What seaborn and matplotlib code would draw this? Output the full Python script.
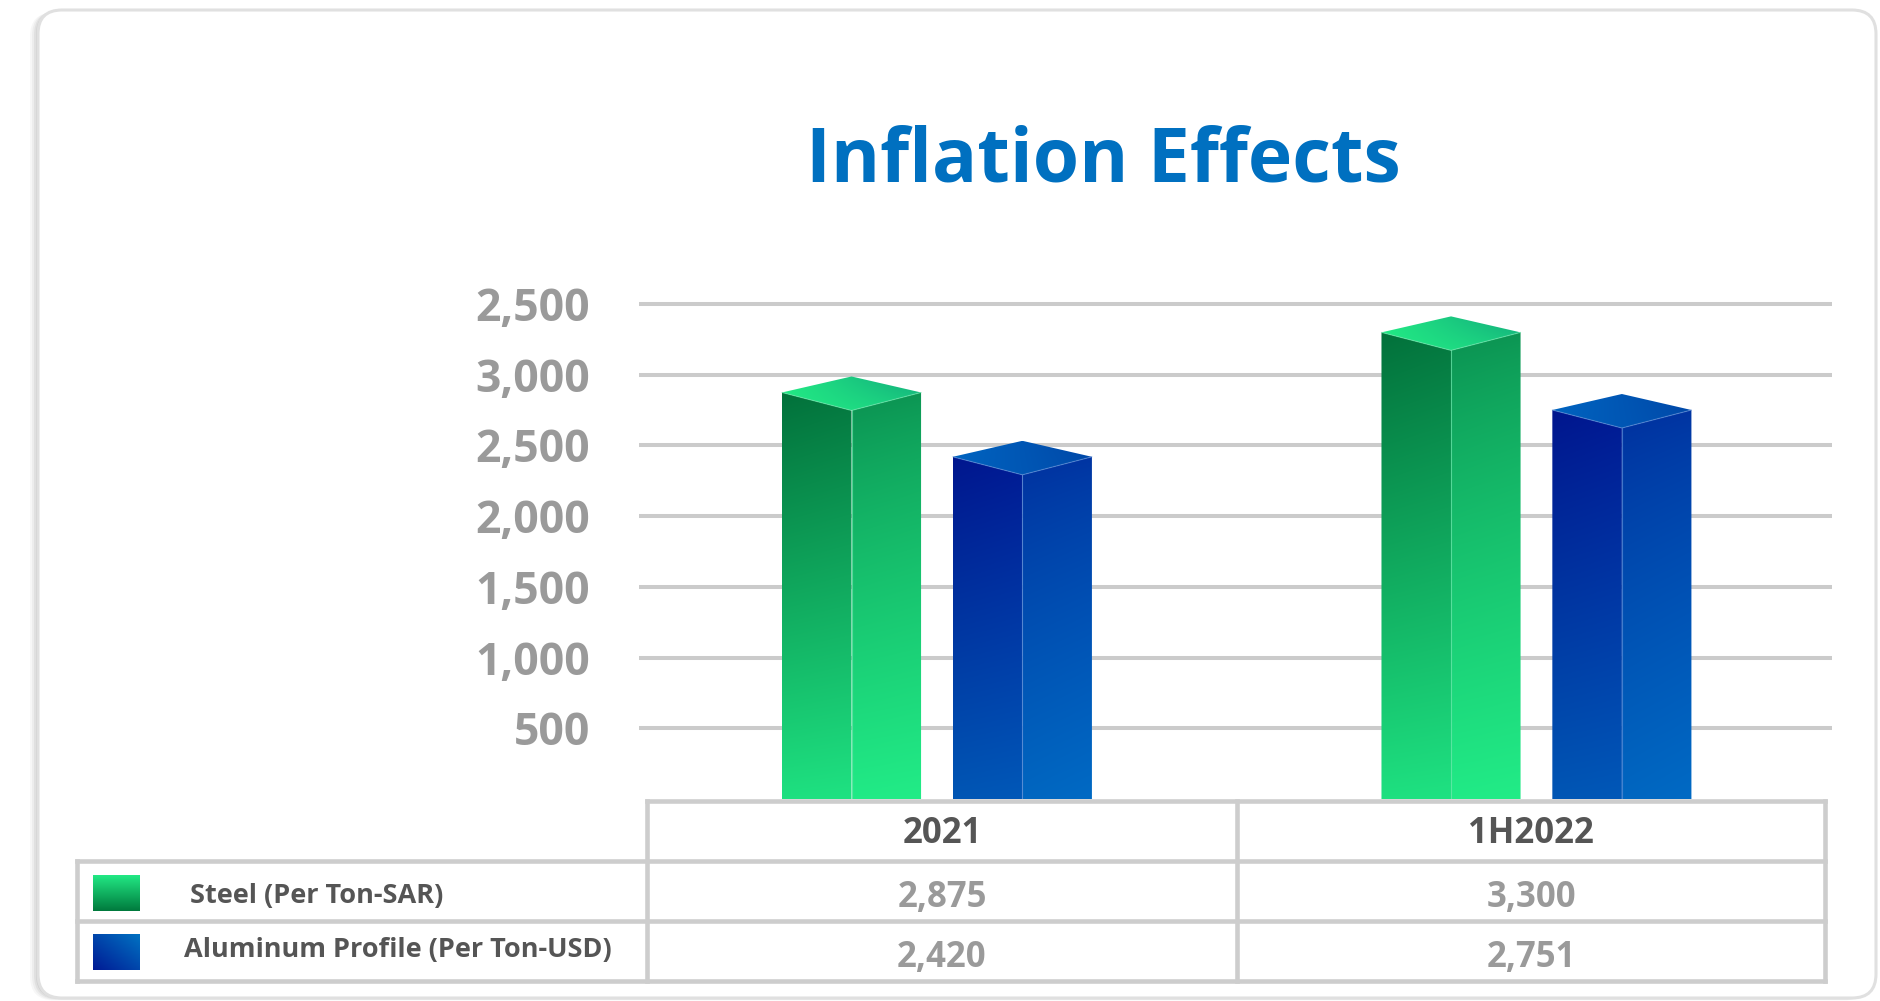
import numpy as np
import pandas as pd
import matplotlib
matplotlib.use('Agg')
import matplotlib.pyplot as plt
import seaborn as sns
from matplotlib.patches import Polygon, FancyBboxPatch
from matplotlib.colors import to_rgb

# ---------------- data ----------------
periods = ['2021', '1H2022']
series_names = ['Steel (Per Ton-SAR)', 'Aluminum Profile (Per Ton-USD)']
steel = [2875, 3300]
aluminum = [2420, 2751]
ytick_values = [500, 1000, 1500, 2000, 2500, 3000, 3500]
ytick_labels = ['500', '1,000', '1,500', '2,000', '2,500', '3,000', '2,500']
title = 'Inflation Effects'

# ---------------- style ----------------
sns.set_theme(style='white')
plt.rcParams['font.family'] = ['Open Sans', 'DejaVu Sans']

W, H = 1880, 1001
fig = plt.figure(figsize=(W / 100, H / 100), dpi=100)
fig.patch.set_facecolor('white')

# background overlay (pixel coordinates)
bg = fig.add_axes([0, 0, 1, 1], zorder=0)
bg.set_xlim(0, W)
bg.set_ylim(H, 0)
bg.axis('off')

# card shadow + card
for k, a in [(8, 0.03), (6, 0.04), (4, 0.05), (2, 0.08)]:
    bg.add_patch(FancyBboxPatch((38 - k, 10 + k * 0.3), 1838, 988, boxstyle='round,pad=0,rounding_size=24',
                                facecolor='#000000', edgecolor='none', alpha=a))
bg.add_patch(FancyBboxPatch((38, 10), 1838, 988, boxstyle='round,pad=0,rounding_size=24',
                            facecolor='white', edgecolor='#e0e0e0', linewidth=2.2))

bg.text(1103, 162, title, ha='center', va='center', fontsize=54, fontweight='bold', color='#0070c0')

# ---------------- chart axes ----------------
ax_left, ax_right = 639, 1832
y0_px, px_per_unit = 799, 0.1414
ymax = 3700
ax_h = ymax * px_per_unit
ax = fig.add_axes([ax_left / W, (H - y0_px) / H, (ax_right - ax_left) / W, ax_h / H], zorder=1)
ax.patch.set_alpha(0)

df = pd.DataFrame({
    'period': periods * 2,
    'series': [series_names[0]] * len(periods) + [series_names[1]] * len(periods),
    'value': steel + aluminum,
})
sns.barplot(data=df, x='period', y='value', hue='series', order=periods, hue_order=series_names,
            width=0.57, gap=0.186, errorbar=None, legend=False,
            palette=['#1fd27e', '#0045a8'], ax=ax)

xlim = (-0.497, 1.493)
ax.set_xlim(*xlim)
ax.set_ylim(0, ymax)
for v in ytick_values:
    ax.axhline(v, color='#cbcbcb', lw=2.9, zorder=0.5)

ax.set_yticks(ytick_values, ytick_labels)
ax.set_xticks([])
ax.set_xlabel('')
ax.set_ylabel('')
ax.tick_params(axis='y', length=0, pad=35, labelsize=32, labelcolor='#9a9a9a')
for lbl in ax.get_yticklabels():
    lbl.set_fontweight('bold')
for s in ax.spines.values():
    s.set_visible(False)


def grad_fill(axis, verts, tl, tr, bl, br, z, gamma=1.0):
    poly = Polygon(verts, closed=True, facecolor='none', edgecolor='none')
    axis.add_patch(poly)
    xs = [p[0] for p in verts]
    ys = [p[1] for p in verts]
    n = 200
    ty = (np.linspace(0, 1, n) ** gamma)[:, None, None]  # 0 top -> 1 bottom
    tx = np.linspace(0, 1, n)[None, :, None]
    tl, tr, bl, br = [np.array(to_rgb(c)) for c in (tl, tr, bl, br)]
    top = tl + (tr - tl) * tx
    bot = bl + (br - bl) * tx
    img = top + (bot - top) * ty
    img = np.clip(img, 0, 1)
    im = axis.imshow(img, extent=[min(xs), max(xs), min(ys), max(ys)], origin='upper',
                     aspect='auto', interpolation='bilinear', zorder=z)
    im.set_clip_path(poly)
    return im


face_colors = [
    dict(left=('#02713b', '#04773f', '#1ee080', '#1fe282'),
         right=('#0a8f50', '#0c9553', '#21ea86', '#22ec87'),
         top=('#22e884', '#12a87b', '#22ea85', '#1bcf80'),
         edge='#6fe8ae'),
    dict(left=('#00168e', '#001a94', '#0056b4', '#0058b8'),
         right=('#002f9e', '#0034a2', '#0066c0', '#006ac4'),
         top=('#0066c2', '#0046a6', '#0062be', '#004cac'),
         edge='#5f8fd8'),
]

d_front = 18 / px_per_unit
d_back = 16 / px_per_unit
for si, cont in enumerate(ax.containers):
    fc = face_colors[si]
    for p in cont:
        x0, w, v = p.get_x(), p.get_width(), p.get_height()
        xc = x0 + w / 2
        x1 = x0 + w
        p.set_visible(False)
        L = fc['left']
        grad_fill(ax, [(x0, 0), (xc, 0), (xc, v - d_front), (x0, v)], L[0], L[1], L[2], L[3], 2)
        R = fc['right']
        grad_fill(ax, [(xc, 0), (x1, 0), (x1, v), (xc, v - d_front)], R[0], R[1], R[2], R[3], 2, gamma=0.8)
        T = fc['top']
        grad_fill(ax, [(x0, v), (xc, v + d_back), (x1, v), (xc, v - d_front)], T[0], T[1], T[2], T[3], 2.1)
        ax.plot([xc, xc], [0, v - d_front], color=fc['edge'], lw=0.8, alpha=0.7, zorder=2.2)
        ax.plot([x0, xc, x1], [v, v - d_front, v], color=fc['edge'], lw=0.8, alpha=0.6, zorder=2.2)

ax.set_xlim(*xlim)
ax.set_ylim(0, ymax)

# ---------------- table (pixel coordinates) ----------------
fg = fig.add_axes([0, 0, 1, 1], zorder=3)
fg.set_xlim(0, W)
fg.set_ylim(H, 0)
fg.axis('off')
fg.patch.set_alpha(0)

col_x = [77, 647, 1237, 1825]
row_y = [801, 861, 921, 981]
lc, lw = '#cdcdcd', 3.3
fg.plot([col_x[1], col_x[3]], [row_y[0], row_y[0]], color=lc, lw=lw, solid_capstyle='projecting')
for ry in row_y[1:]:
    fg.plot([col_x[0], col_x[3]], [ry, ry], color=lc, lw=lw, solid_capstyle='projecting')
fg.plot([col_x[0], col_x[0]], [row_y[1], row_y[3]], color=lc, lw=lw, solid_capstyle='projecting')
for cx in col_x[1:]:
    fg.plot([cx, cx], [row_y[0], row_y[3]], color=lc, lw=lw, solid_capstyle='projecting')

col_centers = [(col_x[1] + col_x[2]) / 2, (col_x[2] + col_x[3]) / 2]
row_centers = [(row_y[i] + row_y[i + 1]) / 2 for i in range(3)]
for cx, per in zip(col_centers, periods):
    fg.text(cx, row_centers[0] + 3, per, ha='center', va='center', fontsize=25, fontweight='bold', color='#555555')
for ri, vals in enumerate([steel, aluminum]):
    for cx, v in zip(col_centers, vals):
        fg.text(cx, row_centers[ri + 1] + 7, f'{v:,}', ha='center', va='center', fontsize=25,
                fontweight='bold', color='#9a9a9a')

label_x = [190, 184]
label_dy = [5, -1]
for ri, name in enumerate(series_names):
    fg.text(label_x[ri], row_centers[ri + 1] + label_dy[ri], name, ha='left', va='center', fontsize=19.5,
            fontweight='bold', color='#555555')

# legend swatches
n = 60
t = np.linspace(0, 1, n)
g_top, g_bot = np.array(to_rgb('#22e884')), np.array(to_rgb('#007a3d'))
img_s = (g_top + (g_bot - g_top) * t[:, None])[:, None, :].repeat(10, axis=1)
fg.imshow(img_s, extent=(93, 140, 911, 875), origin='upper', aspect='auto', interpolation='bilinear', zorder=4)
a_tr, a_bl = np.array(to_rgb('#0072c2')), np.array(to_rgb('#001a94'))
yy, xx = np.mgrid[0:n, 0:n] / (n - 1)
tt = (yy + (1 - xx)) / 2
img_a = a_tr + (a_bl - a_tr) * tt[..., None]
fg.imshow(img_a, extent=(93, 140, 970, 934), origin='upper', aspect='auto', interpolation='bilinear', zorder=4)
fg.set_xlim(0, W)
fg.set_ylim(H, 0)

fig.savefig('out.png', dpi=100, facecolor='white')
